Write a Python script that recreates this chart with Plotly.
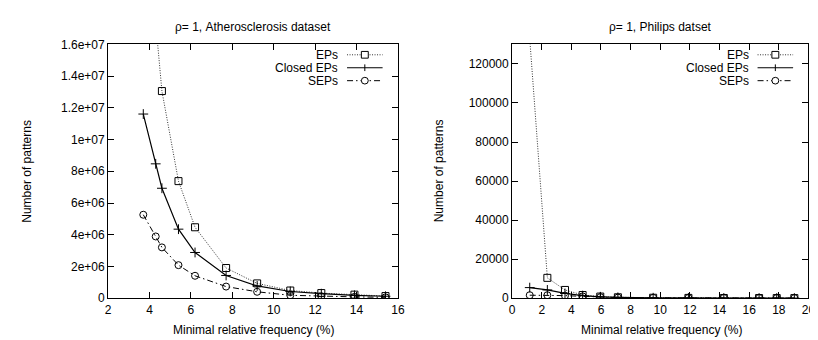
import plotly.graph_objects as go

W, H = 818, 340

# ---- data ----
ath_x = [3.7, 4.3, 4.6, 5.4, 6.2, 7.7, 9.2, 10.8, 12.3, 13.9, 15.4]
ath_eps = [2.6e7, 1.72e7, 1.306e7, 7.38e6, 4.47e6, 1.9e6, 9.3e5, 4.8e5, 3.2e5, 2.2e5, 1.3e5]
ath_closed = [1.161e7, 8.47e6, 6.93e6, 4.35e6, 2.88e6, 1.43e6, 7.7e5, 4.2e5, 2.8e5, 1.8e5, 1.2e5]
ath_seps = [5.26e6, 3.89e6, 3.2e6, 2.08e6, 1.41e6, 7.3e5, 4.0e5, 1.8e5, 1.2e5, 8e4, 5e4]

phi_x = [1.19, 2.38, 3.57, 4.76, 5.95, 7.14, 9.52, 11.9, 14.29, 16.67, 17.86, 19.05]
phi_eps = [133000, 10400, 4200, 1600, 800, 450, 200, 120, 80, 50, 40, 30]
phi_closed = [5400, 4200, 2400, 1300, 700, 400, 200, 120, 80, 50, 40, 30]
phi_seps = [1500, 1500, 1300, 900, 500, 300, 150, 90, 60, 40, 30, 25]

series_names = ["EPs", "Closed EPs", "SEPs"]
titles = ["ρ= 1, Atherosclerosis dataset", "ρ= 1, Philips datset"]
x_title = "Minimal relative frequency (%)"
y_title = "Number of patterns"

ath_xticks = [2, 4, 6, 8, 10, 12, 14, 16]
ath_yticks = [0, 2e6, 4e6, 6e6, 8e6, 1e7, 1.2e7, 1.4e7, 1.6e7]
ath_yticklabels = ["0", "2e+06", "4e+06", "6e+06", "8e+06", "1e+07", "1.2e+07", "1.4e+07", "1.6e+07"]
phi_xticks = [0, 2, 4, 6, 8, 10, 12, 14, 16, 18, 20]
phi_yticks = [0, 20000, 40000, 60000, 80000, 100000, 120000]
phi_yticklabels = ["0", "20000", "40000", "60000", "80000", "100000", "120000"]

FONT = "Liberation Sans, Arial, sans-serif"
FS = 12

styles = [
    dict(line=dict(color="#333333", width=1, dash="1px,1.5px"),
         marker=dict(symbol="square-open", size=7, color="black", line=dict(width=1, color="black"))),
    dict(line=dict(color="black", width=1.2),
         marker=dict(symbol="cross-thin-open", size=7, color="black", line=dict(width=1, color="black"))),
    dict(line=dict(color="black", width=1, dash="6px,3px,1.5px,3px"),
         marker=dict(symbol="circle-open", size=7, color="black", line=dict(width=1, color="black"))),
]

fig = go.Figure()
for xa, ya, xs, ys_list in [("x", "y", ath_x, [ath_eps, ath_closed, ath_seps]),
                            ("x2", "y2", phi_x, [phi_eps, phi_closed, phi_seps])]:
    for name, ys, st in zip(series_names, ys_list, styles):
        fig.add_trace(go.Scatter(x=xs, y=ys, mode="lines+markers", name=name,
                                 xaxis=xa, yaxis=ya, showlegend=False,
                                 line=st["line"], marker=st["marker"]))

# plot areas in pixels
L1, R1 = 98.3, 391.7
L2, R2 = 507.3, 807.3
TOP, BOT = 30.7, 295.3


def px(x):
    return x / W


def py(y):
    return (H - y) / H


axis_common = dict(showline=True, linecolor="black", linewidth=1, mirror="ticks",
                   ticks="inside", ticklen=6, tickcolor="black", tickwidth=1,
                   showgrid=False, zeroline=False,
                   tickfont=dict(family=FONT, size=FS, color="black"))

fig.update_layout(
    width=W, height=H, margin=dict(l=0, r=0, t=0, b=0),
    paper_bgcolor="white", plot_bgcolor="white",
    font=dict(family=FONT, size=FS, color="black"),
    xaxis=dict(domain=[px(L1), px(R1)], range=[2, 16], tickvals=ath_xticks, anchor="y", **axis_common),
    yaxis=dict(domain=[py(BOT), py(TOP)], range=[0, 1.6e7], tickvals=ath_yticks,
               ticktext=ath_yticklabels, anchor="x", **axis_common),
    xaxis2=dict(domain=[px(L2), px(R2)], range=[0, 20], tickvals=phi_xticks, anchor="y2", **axis_common),
    yaxis2=dict(domain=[py(BOT), py(TOP)], range=[0, 130000], tickvals=phi_yticks,
                ticktext=phi_yticklabels, anchor="x2", **axis_common),
)

annotations = []
shapes = []
for (L, R), title, ytx in [((L1, R1), titles[0], 16.7), ((L2, R2), titles[1], 433.3)]:
    cx = (L + R) / 2
    annotations.append(dict(text=title, x=px(cx), y=py(12.5), xref="paper", yref="paper",
                            showarrow=False, xanchor="center", yanchor="middle",
                            font=dict(family=FONT, size=FS)))
    annotations.append(dict(text=x_title, x=px(cx + 1), y=py(328.3), xref="paper", yref="paper",
                            showarrow=False, xanchor="center", yanchor="middle",
                            font=dict(family=FONT, size=FS)))
    annotations.append(dict(text=y_title, x=px(ytx), y=py(163), xref="paper", yref="paper",
                            showarrow=False, xanchor="center", yanchor="middle", textangle=-90,
                            font=dict(family=FONT, size=FS)))

    # legend (gnuplot style: text then sample on the right)
    text_right = R - 59.5
    ls, le = R - 51.5, R - 15.5
    mx = (ls + le) / 2
    rows = [41.5, 55.0, 68.5]
    for i, (name, st, ry) in enumerate(zip(series_names, styles, rows)):
        annotations.append(dict(text=name, x=px(text_right), y=py(ry), xref="paper", yref="paper",
                                showarrow=False, xanchor="right", yanchor="middle",
                                height=12, borderpad=0,
                                font=dict(family=FONT, size=FS)))
        ln = st["line"]
        shapes.append(dict(type="line", xref="paper", yref="paper",
                           x0=px(ls), x1=px(le), y0=py(ry), y1=py(ry),
                           line=dict(color=ln["color"], width=ln["width"], dash=ln.get("dash", "solid"))))
        if i == 0:
            shapes.append(dict(type="rect", xref="paper", yref="paper",
                               x0=px(mx - 3.5), x1=px(mx + 3.5), y0=py(ry + 3.5), y1=py(ry - 3.5),
                               line=dict(color="black", width=1), fillcolor="white"))
        elif i == 1:
            shapes.append(dict(type="line", xref="paper", yref="paper",
                               x0=px(mx), x1=px(mx), y0=py(ry + 3.5), y1=py(ry - 3.5),
                               line=dict(color="black", width=1)))
        else:
            shapes.append(dict(type="circle", xref="paper", yref="paper",
                               x0=px(mx - 3.5), x1=px(mx + 3.5), y0=py(ry + 3.5), y1=py(ry - 3.5),
                               line=dict(color="black", width=1), fillcolor="white"))

fig.update_layout(annotations=annotations, shapes=shapes)
fig.write_html("out.html")
